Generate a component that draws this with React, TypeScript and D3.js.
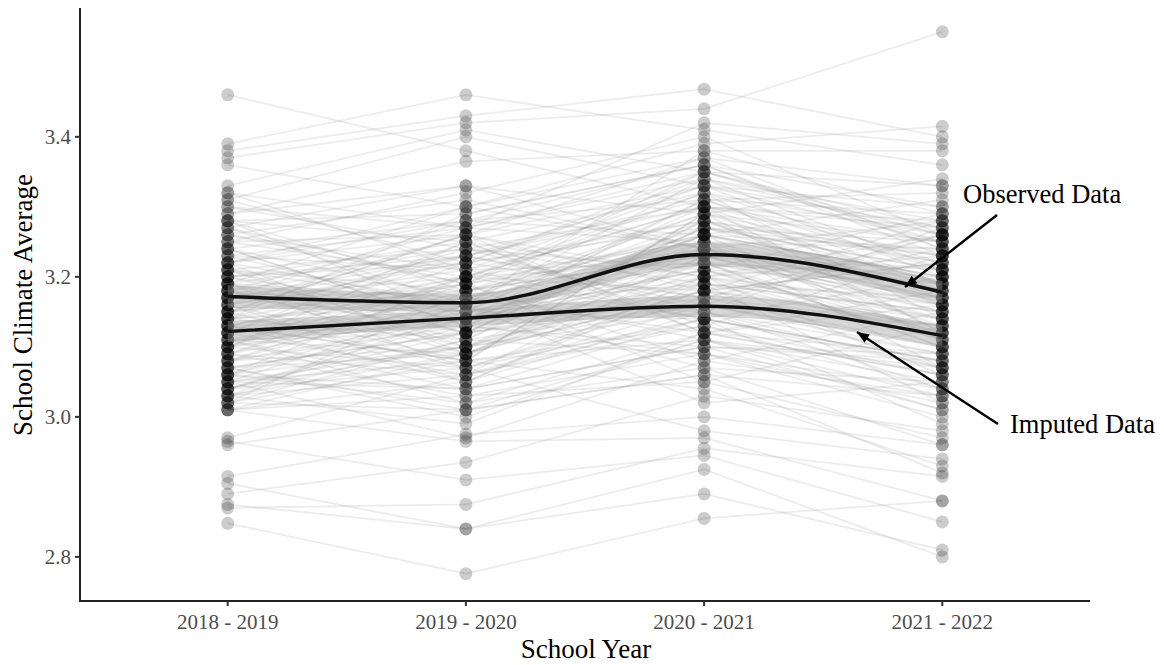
import React from "react";
import * as d3 from "d3";

// School years on the x axis
const schoolYears = ["2018 - 2019", "2019 - 2020", "2020 - 2021", "2021 - 2022"];
const yTicks = [2.8, 3.0, 3.2, 3.4];

// School climate averages per school, one array per school year (same school order)
const sy1819 = [
  3.46, 3.39, 3.38, 3.37, 3.36, 3.33, 3.32, 3.31, 3.29, 3.28, 3.27, 3.26, 3.25, 3.24, 3.23, 3.22,
  3.21, 3.2, 3.2, 3.19, 3.19, 3.18, 3.18, 3.17, 3.17, 3.16, 3.16, 3.15, 3.15, 3.14, 3.14, 3.13,
  3.13, 3.12, 3.12, 3.11, 3.11, 3.1, 3.1, 3.09, 3.09, 3.08, 3.08, 3.07, 3.07, 3.06, 3.06, 3.05,
  3.05, 3.04, 3.04, 3.03, 3.03, 3.02, 3.02, 3.01, 3.01, 2.97, 2.965, 2.96, 2.915, 2.905, 2.89, 2.875,
  2.87, 2.848, 3.32, 3.3, 3.28, 3.27, 3.25, 3.24, 3.23, 3.22, 3.21, 3.2, 3.19, 3.18, 3.17, 3.16,
  3.15, 3.14, 3.13, 3.12, 3.11, 3.1, 3.09, 3.08, 3.07, 3.06, 3.05, 3.04, 3.03, 3.02, 3.01, 3.26,
  3.22, 3.18, 3.15, 3.12, 3.09, 3.06, 3.21, 3.17, 3.13, 3.28, 3.1, 3.04, 3.19, 3.14,
  3.31, 3.29, 3.27, 3.25, 3.24, 3.23, 3.22, 3.21, 3.2, 3.19, 3.18, 3.17, 3.16, 3.15, 3.14, 3.13,
  3.12, 3.11, 3.1, 3.09, 3.08, 3.07, 3.06, 3.05, 3.04, 3.03, 3.02, 3.01, 3.3, 3.26, 3.24, 3.2,
  3.18, 3.16, 3.14, 3.12, 3.11, 3.08, 3.06, 3.05, 3.03, 3.22, 3.19, 3.17, 3.13, 3.1, 3.28, 3.15,
  3.07, 3.21,
];
const sy1920 = [
  3.38, 3.46, 3.43, 3.42, 3.3, 3.41, 3.27, 3.4, 3.365, 3.25, 3.33, 3.19, 3.32, 3.28, 3.15, 3.26,
  3.24, 3.12, 3.22, 3.3, 3.17, 3.09, 3.23, 3.2, 3.14, 3.21, 3.05, 3.18, 3.26, 3.11, 3.16, 3.2,
  3.08, 3.23, 3.13, 3.17, 3.02, 3.14, 3.22, 3.06, 3.15, 3.19, 3.1, 3.0, 3.12, 3.16, 3.04, 3.1,
  2.97, 3.13, 3.07, 3.11, 2.99, 3.08, 3.18, 3.03, 2.965, 3.06, 2.91, 3.01, 2.975, 2.84, 2.935, 2.84,
  2.875, 2.776, 3.21, 3.24, 3.29, 3.16, 3.2, 3.13, 3.27, 3.09, 3.18, 3.25, 3.11, 3.15, 3.22, 3.08,
  3.19, 3.24, 3.05, 3.17, 3.12, 3.07, 3.2, 3.13, 3.09, 3.14, 3.04, 3.1, 3.15, 3.01, 3.09, 3.31,
  3.16, 3.27, 3.23, 3.06, 3.18, 3.02, 3.12, 3.28, 3.19, 3.14, 3.25, 3.12, 3.07, 3.29,
  3.22, 3.33, 3.19, 3.26, 3.17, 3.21, 3.28, 3.1, 3.15, 3.24, 3.12, 3.18, 3.26, 3.07, 3.2, 3.14,
  3.25, 3.09, 3.16, 3.03, 3.17, 3.12, 3.2, 3.08, 3.14, 3.06, 3.11, 3.05, 3.27, 3.21, 3.13, 3.23,
  3.1, 3.22, 3.17, 3.19, 3.04, 3.14, 3.1, 3.16, 3.09, 3.3, 3.14, 3.23, 3.08, 3.2, 3.18, 3.26,
  3.01, 3.16,
];
const sy2021 = [
  3.3, 3.41, 3.468, 3.44, 3.39, 3.35, 3.42, 3.33, 3.38, 3.32, 3.29, 3.35, 3.4, 3.26, 3.31, 3.37,
  3.21, 3.28, 3.34, 3.24, 3.27, 3.2, 3.3, 3.18, 3.25, 3.33, 3.15, 3.23, 3.12, 3.26, 3.19, 3.22,
  3.29, 3.16, 3.1, 3.24, 3.07, 3.31, 3.17, 3.13, 3.21, 3.05, 3.25, 3.11, 3.18, 3.02, 3.14, 3.2,
  3.08, 3.27, 2.98, 3.16, 3.12, 3.04, 3.23, 3.09, 2.97, 3.14, 2.945, 3.06, 3.0, 2.89, 3.03, 2.925,
  2.955, 2.855, 3.28, 3.15, 3.36, 3.22, 3.3, 3.19, 3.34, 3.18, 3.26, 3.13, 3.28, 3.22, 3.35, 3.11,
  3.24, 3.3, 3.2, 3.15, 3.27, 3.17, 3.32, 3.09, 3.21, 3.26, 3.1, 3.19, 3.14, 3.06, 3.18, 3.24,
  3.38, 3.25, 3.33, 3.23, 3.29, 3.12, 3.16, 3.31, 3.08, 3.26, 3.2, 3.22, 3.14, 3.36,
  3.27, 3.24, 3.32, 3.18, 3.29, 3.14, 3.36, 3.22, 3.3, 3.19, 3.27, 3.11, 3.33, 3.18, 3.25, 3.2,
  3.12, 3.24, 3.28, 3.05, 3.23, 3.17, 3.3, 3.13, 3.21, 3.16, 3.09, 3.19, 3.35, 3.22, 3.26, 3.31,
  3.15, 3.28, 3.12, 3.26, 3.1, 3.24, 3.16, 3.07, 3.23, 3.37, 3.21, 3.17, 3.29, 3.14, 3.25, 3.2,
  3.11, 3.34,
];
const sy2122 = [
  3.25, 3.36, 3.4, 3.55, 3.415, 3.33, 3.39, 3.3, 3.38, 3.22, 3.34, 3.27, 3.26, 3.31, 3.19, 3.24,
  3.29, 3.16, 3.21, 3.13, 3.25, 3.06, 3.23, 3.28, 3.11, 3.2, 3.09, 3.14, 3.18, 3.24, 3.02, 3.17,
  3.12, 3.26, 3.08, 3.15, 2.96, 3.21, 3.1, 3.04, 3.19, 3.13, 3.07, 3.01, 3.22, 3.05, 2.99, 3.14,
  3.03, 3.18, 2.94, 3.1, 3.06, 2.93, 3.16, 3.0, 2.88, 3.08, 2.85, 2.92, 2.96, 2.81, 2.98, 2.8,
  2.915, 2.88, 3.19, 3.27, 3.23, 3.12, 3.28, 3.15, 3.26, 3.07, 3.2, 3.23, 3.17, 3.1, 3.25, 3.05,
  3.21, 3.12, 3.16, 3.04, 3.23, 3.13, 3.26, 3.02, 3.11, 3.2, 3.09, 3.17, 3.07, 3.03, 3.14, 3.17,
  3.29, 3.24, 3.27, 3.19, 3.22, 3.06, 3.09, 3.32, 3.15, 3.18, 3.26, 3.1, 3.2, 3.24,
  3.21, 3.28, 3.14, 3.22, 3.25, 3.08, 3.3, 3.16, 3.27, 3.12, 3.21, 3.03, 3.25, 3.13, 3.19, 3.23,
  3.09, 3.17, 3.22, 2.97, 3.15, 3.24, 3.18, 3.06, 3.12, 3.1, 3.04, 3.15, 3.26, 3.2, 3.11, 3.29,
  3.07, 3.23, 3.16, 3.2, 3.01, 3.18, 3.13, 3.05, 3.21, 3.33, 3.14, 3.26, 3.19, 3.08, 3.16, 3.11,
  3.07, 3.28,
];

// Smoothed trend for observed and imputed data, with standard-error half widths
const observedFit = [3.172, 3.163, 3.232, 3.178];
const observedSe = [0.016, 0.013, 0.017, 0.016];
const imputedFit = [3.122, 3.141, 3.158, 3.116];
const imputedSe = [0.015, 0.012, 0.015, 0.015];

const W = 1164;
const H = 665;
const serif = "'Liberation Serif', 'DejaVu Serif', serif";

export default function App() {
  const x = d3.scalePoint<string>().domain(schoolYears).range([80, 1090]).padding(0.62);
  const y = d3.scaleLinear().domain([2.737, 3.584]).range([601, 8]);

  const schools = sy1819.map((v, i) => [v, sy1920[i], sy2021[i], sy2122[i]]);

  const spaghetti = d3
    .line<number>()
    .x((_, i) => x(schoolYears[i]) as number)
    .y((d) => y(d));

  const smooth = d3
    .line<number>()
    .x((_, i) => x(schoolYears[i]) as number)
    .y((d) => y(d))
    .curve(d3.curveMonotoneX);

  const band = (fit: number[], se: number[]) =>
    d3
      .area<number>()
      .x((_, i) => x(schoolYears[i]) as number)
      .y0((d, i) => y(d - se[i]))
      .y1((d, i) => y(d + se[i]))
      .curve(d3.curveMonotoneX)(fit) as string;

  const points: { xv: string; v: number }[] = [];
  schools.forEach((row) => row.forEach((v, j) => points.push({ xv: schoolYears[j], v })));

  const arrowHead = (x1: number, y1: number, x2: number, y2: number) => {
    const ang = Math.atan2(y2 - y1, x2 - x1);
    const len = 13;
    const spread = 0.38;
    const p1 = [x2 - len * Math.cos(ang - spread), y2 - len * Math.sin(ang - spread)];
    const p2 = [x2 - len * Math.cos(ang + spread), y2 - len * Math.sin(ang + spread)];
    return `M${x2},${y2}L${p1[0]},${p1[1]}L${p2[0]},${p2[1]}Z`;
  };

  const arrows = [
    { x1: 997, y1: 215, x2: 905, y2: 287 },
    { x1: 998, y1: 424, x2: 857, y2: 332 },
  ];

  return (
    <svg
      width={W}
      height={H}
      style={{ position: "absolute", left: 0, top: 0, background: "#fff" }}
      fontFamily={serif}
    >
      <rect width={W} height={H} fill="#fff" />

      {/* individual school trajectories */}
      <g fill="none" stroke="#8c8c8c" strokeOpacity={0.17} strokeWidth={1.8}>
        {schools.map((row, i) => (
          <path key={i} d={spaghetti(row) as string} />
        ))}
      </g>

      {/* school points */}
      <g fill="#000" fillOpacity={0.2}>
        {points.map((p, i) => (
          <circle key={i} cx={x(p.xv)} cy={y(p.v)} r={6.5} />
        ))}
      </g>

      {/* confidence bands and smoothed trends */}
      <path d={band(observedFit, observedSe)} fill="#999" fillOpacity={0.4} />
      <path d={band(imputedFit, imputedSe)} fill="#999" fillOpacity={0.4} />
      <path d={smooth(observedFit) as string} fill="none" stroke="#111" strokeWidth={3.4} />
      <path d={smooth(imputedFit) as string} fill="none" stroke="#111" strokeWidth={3.4} />

      {/* axes */}
      <line x1={80} x2={80} y1={8} y2={602} stroke="#222" strokeWidth={2} />
      <line x1={79} x2={1090} y1={601} y2={601} stroke="#222" strokeWidth={2} />
      {yTicks.map((t) => (
        <g key={t} transform={`translate(80,${y(t)})`}>
          <line x1={-5} x2={0} stroke="#333" strokeWidth={2} />
          <text x={-9} dy="0.35em" textAnchor="end" fontSize={21} fill="#4d4d4d">
            {t.toFixed(1)}
          </text>
        </g>
      ))}
      {schoolYears.map((s) => (
        <g key={s} transform={`translate(${x(s)},601)`}>
          <line y1={0} y2={5} stroke="#333" strokeWidth={2} />
          <text y={28} textAnchor="middle" fontSize={21} fill="#4d4d4d">
            {s}
          </text>
        </g>
      ))}
      <text x={586} y={658} textAnchor="middle" fontSize={27} fill="#000">
        School Year
      </text>
      <text
        transform="translate(32,305) rotate(-90)"
        textAnchor="middle"
        fontSize={27}
        fill="#000"
      >
        School Climate Average
      </text>

      {/* annotations */}
      <text x={963} y={203} fontSize={26.5} fill="#000">
        Observed Data
      </text>
      <text x={1010} y={433} fontSize={26.5} fill="#000">
        Imputed Data
      </text>
      {arrows.map((a, i) => (
        <g key={i}>
          <line x1={a.x1} y1={a.y1} x2={a.x2} y2={a.y2} stroke="#000" strokeWidth={2.4} />
          <path d={arrowHead(a.x1, a.y1, a.x2, a.y2)} fill="#000" />
        </g>
      ))}
    </svg>
  );
}
